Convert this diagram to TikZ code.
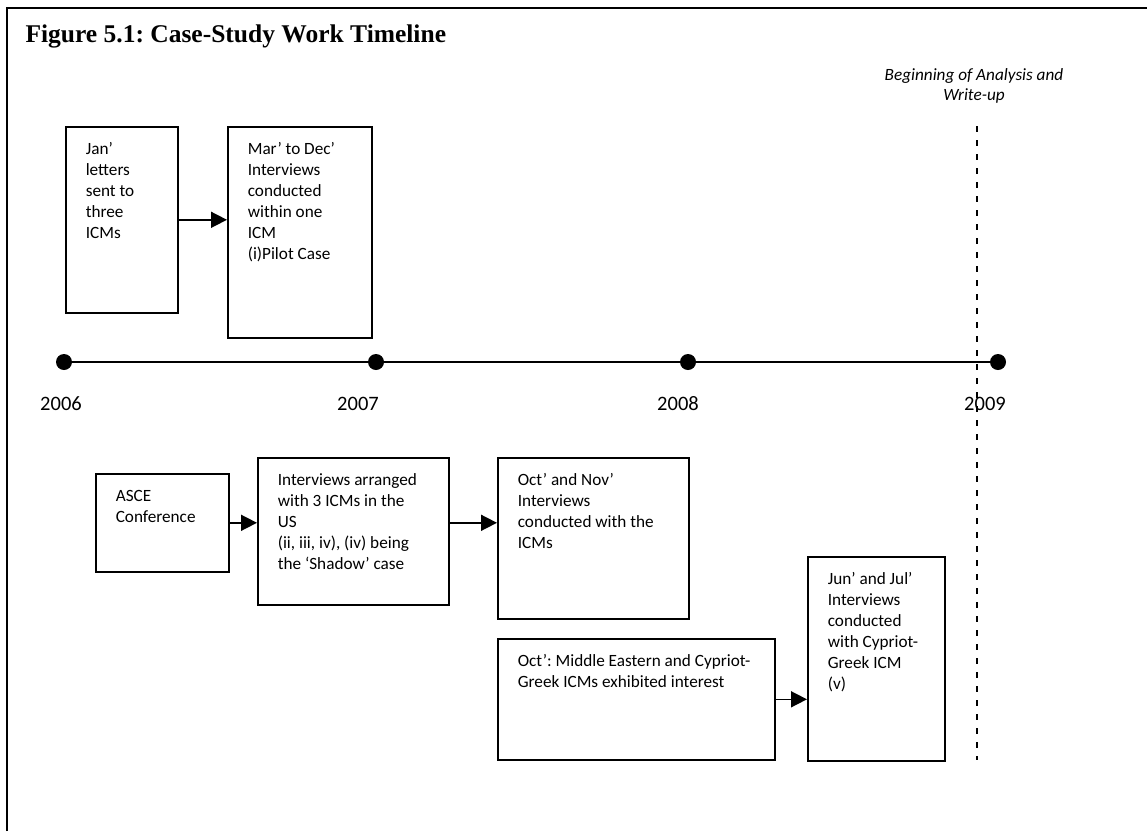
\documentclass[tikz,border=0pt]{standalone}
\usepackage{fontspec}
\setmainfont{Carlito}
\newfontfamily\titlefont{Liberation Serif}
\usetikzlibrary{arrows.meta}
\frenchspacing

\tikzset{
    stage/.style={draw, line width=1.6pt, anchor=north west, inner xsep=20pt, inner ysep=13pt,
        font=\fontsize{17.2}{21}\selectfont},
    flow/.style={line width=1.6pt, -{Triangle[length=16pt, width=16pt]}},
    tick/.style={circle, fill, inner sep=0pt, minimum size=16pt},
    year/.style={font=\fontsize{20.5}{24}\selectfont},
    note/.style={align=center, font=\fontsize{17.2}{19.5}\selectfont\itshape},
}
% text block of a box: width, height, lines
\newcommand{\stagetext}[3]{\parbox[t][#2][t]{#1}{\raggedright\strut #3}}

\begin{document}
\begin{tikzpicture}[x=1pt, y=-1pt]
    \useasboundingbox (0,0) rectangle (1147,831);

    \def\ty{362};

    % frame and title
    \draw[line width=1.8pt] (7,831) -- (7,8) -- (1147,8);
    \node[anchor=base west, font=\titlefont\bfseries\fontsize{25.5}{30}\selectfont] (title) at (22,42) {Figure 5.1: Case-Study Work Timeline};

    % time line
    \node[tick] (t2006) at (64,\ty) {};
    \node[tick] (t2007) at (376,\ty) {};
    \node[tick] (t2008) at (688,\ty) {};
    \node[tick] (t2009) at (998,\ty) {};
    \draw[line width=1.5pt] (t2006) -- (t2009);

    \node[year] (y2006) at (61,404) {2006};
    \node[year] (y2007) at (358,404) {2007};
    \node[year] (y2008) at (678,404) {2008};
    \node[year] (y2009) at (985,404) {2009};

    % start of write-up
    \node[note] (wnote) at (974,86) {Beginning of Analysis and\\Write-up};
    \coordinate (wtop) at (977,126);
    \coordinate (wbot) at (977,760);
    \draw[line width=1.3pt, dash pattern=on 6pt off 8pt] (wtop) -- (wbot);

    % above the line
    \node[stage] (jan) at (65,126) {\stagetext{72pt}{160pt}{Jan’\\letters\\sent to\\three\\ICMs}};
    \node[stage] (mar) at (227,126) {\stagetext{104pt}{185pt}{Mar’ to Dec’\\Interviews\\conducted\\within one\\ICM\\(i)Pilot Case}};
    \draw[flow] (jan.east) -- (mar.west |- jan.east);

    % below the line
    \node[stage] (asce) at (95,473) {\stagetext{93pt}{72pt}{ASCE\\Conference}};
    \node[stage] (arranged) at (257,457) {\stagetext{151pt}{121pt}{Interviews arranged\\with 3 ICMs in the\\US\\(ii, iii, iv), (iv) being\\the ‘Shadow’ case}};
    \node[stage] (octnov) at (497,457) {\stagetext{151pt}{135pt}{Oct’ and Nov’\\Interviews\\conducted with the\\ICMs}};
    \node[stage] (mideast) at (497,638) {\stagetext{237pt}{95pt}{Oct’: Middle Eastern and Cypriot-\\Greek ICMs exhibited interest}};
    \node[stage] (junjul) at (807,556) {\stagetext{97pt}{178pt}{Jun’ and Jul’\\Interviews\\conducted\\with Cypriot-\\Greek ICM\\(v)}};

    \draw[flow] (asce.east) -- (arranged.west |- asce.east);
    \draw[flow] (arranged.east |- asce.east) -- (octnov.west |- asce.east);
    \draw[flow] (mideast.east) -- (junjul.west |- mideast.east);

\end{tikzpicture}
\end{document}
